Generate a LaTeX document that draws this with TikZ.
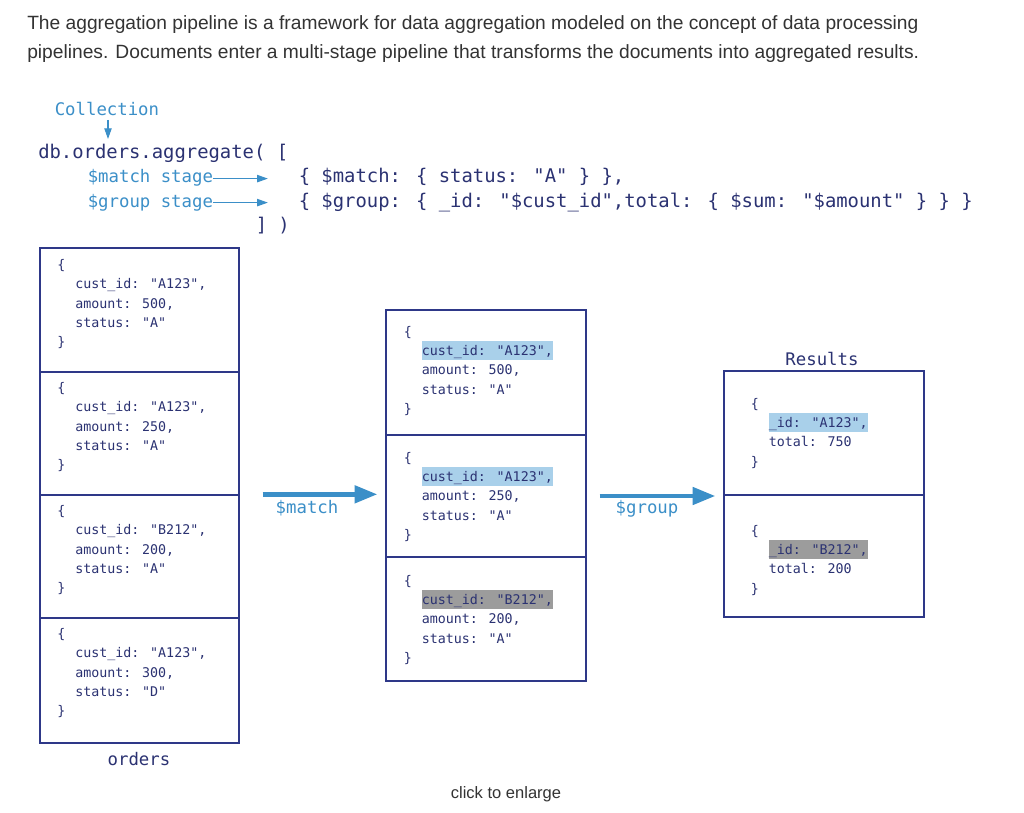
\documentclass[tikz,border=0pt]{standalone}
\usepackage{fontspec}
\setmainfont{Liberation Sans}
\newfontfamily\mono{DejaVu Sans Mono}
\usetikzlibrary{arrows.meta}
\definecolor{navy}{HTML}{2B3272}
\definecolor{boxc}{HTML}{2E3888}
\definecolor{blu}{HTML}{3B8FC8}
\definecolor{hlblue}{HTML}{A9D0EA}
\definecolor{hlgray}{HTML}{9C9C9C}
\definecolor{hdr}{HTML}{333333}
\newcommand\ind{\hspace*{13.5pt}}
\newcommand\hlt[2]{{\setlength\fboxsep{0pt}\colorbox{#1}{\rule[-3.2pt]{0pt}{14.3pt}#2}}}
\newcommand\docv[1]{\vtop{\baselineskip=14.5pt\lineskiplimit=-20pt\lineskip=0pt #1}}
\newcommand\docfour[3]{\docv{\hbox{\{}\hbox{\ind #1}\hbox{\ind #2}\hbox{\ind #3}\hbox{\}}}}
\newcommand\docthree[2]{\docv{\hbox{\{}\hbox{\ind #1}\hbox{\ind #2}\hbox{\}}}}
\tikzset{
  doc/.style={inner sep=0pt, anchor=base west, text=navy, font=\mono\fontsize{10pt}{14.5pt}\selectfont},
  code/.style={inner sep=0pt, anchor=base west, text=navy, font=\mono\fontsize{14.15pt}{17pt}\selectfont},
  lbl/.style={inner sep=0pt, text=blu, font=\mono\fontsize{13pt}{16pt}\selectfont},
  ttl/.style={inner sep=0pt, anchor=base, text=navy, font=\mono\fontsize{13pt}{16pt}\selectfont},
  sec/.style={draw=boxc, line width=1pt, inner sep=0pt, minimum width=150pt},
  bigarrow/.style={draw=blu, line width=3.4pt, -{Triangle[length=17pt,width=12.75pt]}},
  smallarrow/.style={draw=blu, line width=0.8pt, -{Triangle[length=8pt,width=5.5pt]}}
}
\begin{document}
\begin{tikzpicture}[x=0.75pt,y=-0.75pt]
\useasboundingbox (0,0) rectangle (1024,813);
\fill[white] (0,0) rectangle (1024,813);
% header text
\node[inner sep=0pt, anchor=base west, text=hdr, font=\fontsize{14.4pt}{21.75pt}\selectfont] (intro) at (27,29.5)
  {\vtop{\baselineskip=21.75pt
   \hbox{The aggregation pipeline is a framework for data aggregation modeled on the concept of data processing}
   \hbox{pipelines. Documents enter a multi-stage pipeline that transforms the documents into aggregated results.}}};
% code
\node[lbl, anchor=base west] (coll) at (54.5,116) {Collection};
\node[code] (db) at (38,159) {db.orders.aggregate( [};
\node[lbl, anchor=base west] (mstage) at (87.5,183) {\$match stage};
\node[lbl, anchor=base west] (gstage) at (87.5,207) {\$group stage};
\node[code] (mcode) at (298.5,183) {\{ \$match: \{ status: "A" \} \},};
\node[code] (gcode) at (298.5,207) {\{ \$group: \{ \_id: "\$cust\_id",total: \{ \$sum: "\$amount" \} \} \}};
\node[code] (close) at (255.5,231) {] )};
\coordinate (colltip) at (108,139);
\draw[smallarrow] ([yshift=-2.5pt]coll.south -| colltip) -- (colltip);
\draw[smallarrow, shorten >=23pt] ([yshift=3.3pt]mstage.base east) -- ([yshift=3.3pt]mstage.base east -| mcode.west);
\draw[smallarrow, shorten >=23pt] ([yshift=3.3pt]gstage.base east) -- ([yshift=3.3pt]gstage.base east -| gcode.west);
% orders collection
\node[sec, minimum width=149.25pt, minimum height=93pt] (o1) at (139.5,310) {};
\node[sec, minimum width=149.25pt, minimum height=92.25pt] (o2) at (139.5,433.5) {};
\node[sec, minimum width=149.25pt, minimum height=92.25pt] (o3) at (139.5,556.5) {};
\node[sec, minimum width=149.25pt, minimum height=93.75pt] (o4) at (139.5,680.5) {};
\node[doc] (ot1) at (57,269.5) {\docfour{cust\_id: "A123",}{amount: 500,}{status: "A"}};
\node[doc] (ot2) at (57,392.5) {\docfour{cust\_id: "A123",}{amount: 250,}{status: "A"}};
\node[doc] (ot3) at (57,515.5) {\docfour{cust\_id: "B212",}{amount: 200,}{status: "A"}};
\node[doc] (ot4) at (57,638.5) {\docfour{cust\_id: "A123",}{amount: 300,}{status: "D"}};
\node[ttl] (orders) at (139,765) {orders};
% after $match
\node[sec, minimum height=93.75pt] (m1) at (486,372.5) {};
\node[sec, minimum height=91.5pt] (m2) at (486,496) {};
\node[sec, minimum height=93pt] (m3) at (486,619) {};
\node[doc] (mt1) at (403.5,336) {\docfour{\hlt{hlblue}{cust\_id: "A123",}}{amount: 500,}{status: "A"}};
\node[doc] (mt2) at (403.5,462) {\docfour{\hlt{hlblue}{cust\_id: "A123",}}{amount: 250,}{status: "A"}};
\node[doc] (mt3) at (403.5,585) {\docfour{\hlt{hlgray}{cust\_id: "B212",}}{amount: 200,}{status: "A"}};
% results
\node[sec, minimum height=93pt] (r1) at (824,433) {};
\node[sec, minimum height=91.5pt] (r2) at (824,556) {};
\node[doc] (rt1) at (750.5,408) {\docthree{\hlt{hlblue}{\_id: "A123",}}{total: 750}};
\node[doc] (rt2) at (750.5,535) {\docthree{\hlt{hlgray}{\_id: "B212",}}{total: 200}};
\node[ttl] (results) at (822,365) {Results};
% stage arrows
\draw[bigarrow, shorten <=17.25pt, shorten >=6pt] (o3.north east) -- (o3.north east -| m2.west);
\draw[bigarrow, shorten <=9.75pt, shorten >=6pt] (m2.east) -- (m2.east -| r1.west);
\node[lbl, anchor=base] (matchlbl) at (307,513) {\$match};
\node[lbl, anchor=base] (grouplbl) at (647,513) {\$group};
% footer
\node[inner sep=0pt, anchor=base, text=hdr, font=\fontsize{12.4pt}{15pt}\selectfont] (enlarge) at (506,798) {click to enlarge};
\end{tikzpicture}
\end{document}
